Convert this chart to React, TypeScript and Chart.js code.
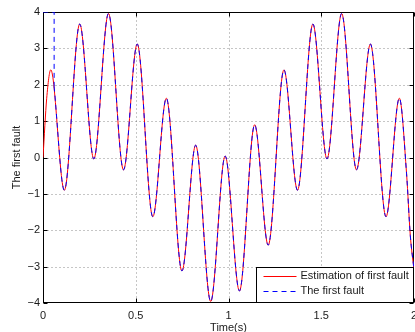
import React, { useEffect, useRef } from "react";
import { Chart, registerables } from "chart.js";

Chart.register(...registerables);

// ---- data ----
const estTime = [
  0, 0.02, 0.042, 0.115, 0.198, 0.274, 0.353, 0.434, 0.508, 0.592, 0.665, 0.749,
  0.823, 0.904, 0.982, 1.059, 1.141, 1.214, 1.299, 1.372, 1.455, 1.531, 1.61,
  1.69, 1.765, 1.849, 1.921, 1.96, 1.98, 2.0,
];
const estValues = [
  0, 1.63, 2.41, -0.9, 3.67, -0.04, 3.96, -0.34, 3.12, -1.63, 1.63, -3.12,
  0.34, -3.96, 0.04, -3.67, 0.9, -2.41, 2.41, -0.9, 3.67, -0.04, 3.96,
  -0.34, 3.12, -1.63, 1.63, -0.45, -2.14, -3.08,
];
const faultTime = [
  0.06, 0.115, 0.198, 0.274, 0.353, 0.434, 0.508, 0.592, 0.665, 0.749,
  0.823, 0.904, 0.982, 1.059, 1.141, 1.214, 1.299, 1.372, 1.455, 1.531, 1.61,
  1.69, 1.765, 1.849, 1.921, 1.96, 1.98, 2.0,
];
const faultValues = [
  1.94, -0.9, 3.67, -0.04, 3.96, -0.34, 3.12, -1.63, 1.63, -3.12,
  0.34, -3.96, 0.04, -3.67, 0.9, -2.41, 2.41, -0.9, 3.67, -0.04, 3.96,
  -0.34, 3.12, -1.63, 1.63, -0.45, -2.14, -3.08,
];
const faultJumpTime = [0, 0.06, 0.06];
const faultJumpValues = [4, 4, 1.94];

const xTicks = [0, 0.5, 1, 1.5, 2];
const xTickLabels = ["0", "0.5", "1", "1.5", "2"];
const yTicks = [-4, -3, -2, -1, 0, 1, 2, 3, 4];
const yTickLabels = ["\u22124", "\u22123", "\u22122", "\u22121", "0", "1", "2", "3", "4"];
const seriesLabels = ["Estimation of first fault", "The first fault"];
const xTitle = "Time(s)";
const yTitle = "The first fault";

const FONT_FAMILY = "'Liberation Sans', Arial, Helvetica, sans-serif";
const TEXT_COLOR = "#1a1a1a";
const RED = "#ff0000";
const BLUE = "#0000ff";
const DASH = [5, 4];

const matlabAxes = {
  id: "matlabAxes",
  beforeDatasetsDraw(chart: any) {
    const { ctx, chartArea: a, scales } = chart;
    const xs = scales.x;
    const ys = scales.y;
    const L = Math.round(a.left) + 0.5;
    const R = Math.round(a.right) - 0.5;
    const T = Math.round(a.top) + 0.5;
    const B = Math.round(a.bottom) - 0.5;
    ctx.save();
    ctx.strokeStyle = "rgba(0,0,0,0.45)";
    ctx.lineWidth = 1;
    ctx.setLineDash([1, 3]);
    xTicks.forEach((v) => {
      if (v === xTicks[0] || v === xTicks[xTicks.length - 1]) return;
      const px = Math.round(xs.getPixelForValue(v)) + 0.5;
      ctx.beginPath();
      ctx.moveTo(px, T);
      ctx.lineTo(px, B);
      ctx.stroke();
    });
    yTicks.forEach((v) => {
      if (v === yTicks[0] || v === yTicks[yTicks.length - 1]) return;
      const py = Math.round(ys.getPixelForValue(v)) + 0.5;
      ctx.beginPath();
      ctx.moveTo(L, py);
      ctx.lineTo(R, py);
      ctx.stroke();
    });
    ctx.setLineDash([]);
    ctx.strokeStyle = "#000";
    ctx.lineWidth = 1;
    ctx.strokeRect(L, T, R - L, B - T);
    const tl = 4;
    ctx.beginPath();
    xTicks.forEach((v) => {
      const px = Math.round(xs.getPixelForValue(v)) + 0.5;
      ctx.moveTo(px, B);
      ctx.lineTo(px, B - tl);
      ctx.moveTo(px, T);
      ctx.lineTo(px, T + tl);
    });
    yTicks.forEach((v) => {
      const py = Math.round(ys.getPixelForValue(v)) + 0.5;
      ctx.moveTo(L, py);
      ctx.lineTo(L + tl, py);
      ctx.moveTo(R, py);
      ctx.lineTo(R - tl, py);
    });
    ctx.stroke();
    ctx.restore();
  },
  afterDatasetsDraw(chart: any) {
    const { ctx, chartArea: a } = chart;
    ctx.save();
    ctx.font = `11px ${FONT_FAMILY}`;
    const textW = Math.max(...seriesLabels.map((s) => ctx.measureText(s).width));
    const padL = 7;
    const lineLen = 33;
    const gap = 4;
    const padR = 5;
    const w = padL + lineLen + gap + textW + padR;
    const h = 35;
    const right = Math.round(a.right) - 0.5;
    const bottom = Math.round(a.bottom) - 0.5;
    const left = Math.round(right - w) + 0.5;
    const top = bottom - h;
    ctx.fillStyle = "#fff";
    ctx.fillRect(left, top, right - left, bottom - top);
    ctx.strokeStyle = "#000";
    ctx.lineWidth = 1;
    ctx.strokeRect(left, top, right - left, bottom - top);
    const rows = [top + 8, top + 23];
    const colors = [RED, BLUE];
    const dashes = [[], DASH];
    rows.forEach((ry, i) => {
      const yy = Math.round(ry) + 0.5;
      ctx.strokeStyle = colors[i];
      ctx.setLineDash(dashes[i]);
      ctx.beginPath();
      ctx.moveTo(left + padL, yy);
      ctx.lineTo(left + padL + lineLen, yy);
      ctx.stroke();
      ctx.setLineDash([]);
      ctx.fillStyle = TEXT_COLOR;
      ctx.textBaseline = "middle";
      ctx.textAlign = "left";
      ctx.fillText(seriesLabels[i], left + padL + lineLen + gap, ry + 0.5);
    });
    ctx.restore();
  },
};

export default function App() {
  const canvasRef = useRef<HTMLCanvasElement | null>(null);

  useEffect(() => {
    document.body.style.margin = "0";
    const canvas = canvasRef.current;
    if (!canvas) return;
    const font = { family: FONT_FAMILY, size: 11 };
    const lineCommon = {
      borderWidth: 1,
      pointRadius: 0,
      pointHoverRadius: 0,
      fill: false,
    };
    const chart = new Chart(canvas, {
      type: "line",
      data: {
        datasets: [
          {
            ...lineCommon,
            label: seriesLabels[0],
            data: estTime.map((t, i) => ({ x: t, y: estValues[i] })),
            borderColor: RED,
            cubicInterpolationMode: "monotone",
            order: 2,
          },
          {
            ...lineCommon,
            label: seriesLabels[1],
            data: faultTime.map((t, i) => ({ x: t, y: faultValues[i] })),
            borderColor: BLUE,
            borderDash: DASH,
            cubicInterpolationMode: "monotone",
            order: 1,
          },
          {
            ...lineCommon,
            label: "",
            data: faultJumpTime.map((t, i) => ({ x: t, y: faultJumpValues[i] })),
            borderColor: BLUE,
            borderDash: DASH,
            tension: 0,
            order: 0,
          },
        ],
      } as any,
      options: {
        responsive: false,
        animation: false,
        devicePixelRatio: 1,
        layout: { padding: { top: 12, right: 1, left: 0, bottom: 0 } },
        plugins: {
          legend: { display: false },
          tooltip: { enabled: false },
        },
        scales: {
          x: {
            type: "linear",
            min: xTicks[0],
            max: xTicks[xTicks.length - 1],
            afterBuildTicks: (s: any) => {
              s.ticks = xTicks.map((v) => ({ value: v }));
            },
            afterFit: (s: any) => {
              s.height = 29;
              s.paddingLeft = 0;
              s.paddingRight = 0;
            },
            grid: { display: false, drawTicks: false },
            border: { display: false },
            ticks: {
              font,
              color: TEXT_COLOR,
              padding: 6,
              maxRotation: 0,
              autoSkip: false,
              callback: (v: any) => xTickLabels[xTicks.indexOf(Number(v))] ?? "",
            },
            title: {
              display: true,
              text: xTitle,
              font,
              color: TEXT_COLOR,
              padding: { top: 0, bottom: -3 },
            },
          },
          y: {
            type: "linear",
            min: yTicks[0],
            max: yTicks[yTicks.length - 1],
            afterBuildTicks: (s: any) => {
              s.ticks = yTicks.map((v) => ({ value: v }));
            },
            afterFit: (s: any) => {
              s.width = 43;
              s.paddingTop = 0;
              s.paddingBottom = 0;
            },
            grid: { display: false, drawTicks: false },
            border: { display: false },
            ticks: {
              font,
              color: TEXT_COLOR,
              padding: 3,
              autoSkip: false,
              callback: (v: any) => yTickLabels[yTicks.indexOf(Number(v))] ?? "",
            },
            title: {
              display: true,
              text: yTitle,
              font,
              color: TEXT_COLOR,
              padding: { top: 10, bottom: 0 },
            },
          },
        },
      } as any,
      plugins: [matlabAxes],
    });
    return () => chart.destroy();
  }, []);

  return (
    <div style={{ width: 415, height: 332 }}>
      <canvas ref={canvasRef} width={415} height={332} style={{ display: "block" }} />
    </div>
  );
}
